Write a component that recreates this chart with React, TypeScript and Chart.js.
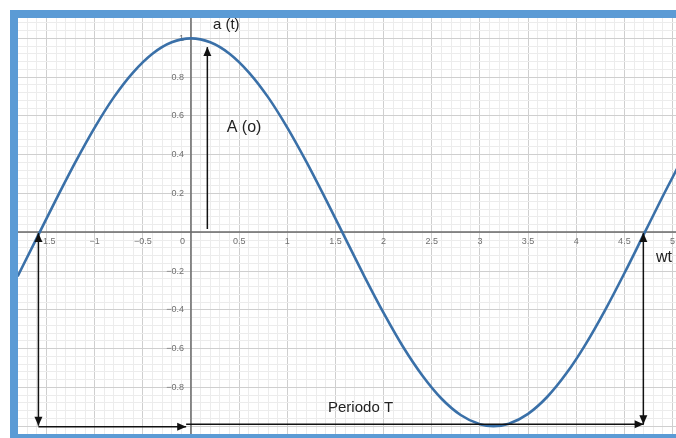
import React, { useEffect, useRef } from "react";
import { Chart, registerables } from "chart.js";

Chart.register(...registerables);

// Curve a(t)
const waveX = [-1.8, -1.6, -1.4, -1.2, -1.0, -0.8, -0.6, -0.4, -0.2, 0, 0.2, 0.4, 0.6, 0.8, 1.0, 1.2, 1.4, 1.6, 1.8, 2.0, 2.2, 2.4, 2.6, 2.8, 3.0, 3.14, 3.3, 3.5, 3.7, 3.9, 4.1, 4.3, 4.5, 4.7, 4.9, 5.1];
const waveY = [-0.227, -0.029, 0.17, 0.362, 0.54, 0.697, 0.825, 0.921, 0.98, 1.0, 0.98, 0.921, 0.825, 0.697, 0.54, 0.362, 0.17, -0.029, -0.227, -0.416, -0.589, -0.737, -0.857, -0.942, -0.99, -1.0, -0.987, -0.936, -0.848, -0.726, -0.575, -0.401, -0.211, -0.012, 0.187, 0.378];

const xTickValues = [-1.5, -1, -0.5, 0, 0.5, 1, 1.5, 2, 2.5, 3, 3.5, 4, 4.5, 5];
const xTickLabels = ["\u22121.5", "\u22121", "\u22120.5", "0", "0.5", "1", "1.5", "2", "2.5", "3", "3.5", "4", "4.5", "5"];
const yTickValues = [1, 0.8, 0.6, 0.4, 0.2, -0.2, -0.4, -0.6, -0.8];
const yTickLabels = ["1", "0.8", "0.6", "0.4", "0.2", "\u22120.2", "\u22120.4", "\u22120.6", "\u22120.8"];

const labelA = "a (t)";
const labelAmp = "A (o)";
const labelWt = "wt";
const labelPeriod = "Periodo T";

const isMult = (v: number, s: number) => Math.abs(v / s - Math.round(v / s)) < 1e-6;

function drawHead(ctx: CanvasRenderingContext2D, tx: number, ty: number, angle: number) {
  const len = 9;
  const w = 4;
  ctx.save();
  ctx.translate(tx, ty);
  ctx.rotate(angle);
  ctx.beginPath();
  ctx.moveTo(0, 0);
  ctx.lineTo(-len, -w);
  ctx.lineTo(-len, w);
  ctx.closePath();
  ctx.fill();
  ctx.restore();
}

function drawArrow(ctx: CanvasRenderingContext2D, x1: number, y1: number, x2: number, y2: number, startHead: boolean, endHead: boolean) {
  ctx.beginPath();
  ctx.moveTo(x1, y1);
  ctx.lineTo(x2, y2);
  ctx.stroke();
  const a = Math.atan2(y2 - y1, x2 - x1);
  if (endHead) drawHead(ctx, x2, y2, a);
  if (startHead) drawHead(ctx, x1, y1, a + Math.PI);
}

const overlayPlugin = {
  id: "overlay",
  beforeDatasetsDraw(chart: any) {
    const { ctx, scales } = chart;
    const x = scales.x;
    const y = scales.y;
    const x0 = Math.round(x.getPixelForValue(0));
    const y0 = Math.round(y.getPixelForValue(0));
    const area = chart.chartArea;
    ctx.save();
    // axes
    ctx.strokeStyle = "#6a6a6a";
    ctx.lineWidth = 1.5;
    ctx.beginPath();
    ctx.moveTo(area.left, y0);
    ctx.lineTo(area.right, y0);
    ctx.moveTo(x0, area.top);
    ctx.lineTo(x0, area.bottom);
    ctx.stroke();
    // tick labels
    ctx.fillStyle = "#707070";
    ctx.font = "9px 'Liberation Sans', Arial, sans-serif";
    ctx.textBaseline = "middle";
    xTickValues.forEach((v, i) => {
      if (v === 0) {
        ctx.textAlign = "right";
        ctx.fillText(xTickLabels[i], x0 - 6, y0 + 9.5);
      } else {
        ctx.textAlign = "center";
        ctx.fillText(xTickLabels[i], x.getPixelForValue(v), y0 + 9.5);
      }
    });
    ctx.textAlign = "right";
    yTickValues.forEach((v, i) => {
      ctx.fillText(yTickLabels[i], x0 - 7, y.getPixelForValue(v));
    });
    ctx.restore();
  },
  afterDatasetsDraw(chart: any) {
    const { ctx, scales } = chart;
    const x = scales.x;
    const y = scales.y;
    const px = (v: number) => x.getPixelForValue(v);
    const py = (v: number) => y.getPixelForValue(v);
    ctx.save();
    ctx.strokeStyle = "#111";
    ctx.fillStyle = "#111";
    ctx.lineWidth = 1.5;
    // amplitude arrow
    drawArrow(ctx, px(0.17), py(0.017), px(0.17), py(0.955), false, true);
    // period verticals
    drawArrow(ctx, px(-1.584), py(-0.997), px(-1.584), py(-0.004), true, true);
    drawArrow(ctx, px(4.697), py(-0.99), px(4.697), py(-0.004), true, true);
    // period horizontals
    drawArrow(ctx, px(-1.584), py(-1.002), px(-0.05), py(-1.002), false, true);
    drawArrow(ctx, px(-0.05), py(-0.99), px(4.7), py(-0.99), false, true);
    // texts
    ctx.fillStyle = "#222";
    ctx.textAlign = "left";
    ctx.textBaseline = "middle";
    ctx.font = "15px 'Liberation Sans', Arial, sans-serif";
    ctx.fillText(labelA, px(0.228), py(1.069));
    ctx.font = "16px 'Liberation Sans', Arial, sans-serif";
    ctx.fillText(labelAmp, px(0.371), py(0.538));
    ctx.fillText(labelWt, px(4.829), py(-0.132));
    ctx.font = "15px 'Liberation Sans', Arial, sans-serif";
    ctx.fillText(labelPeriod, px(1.423), py(-0.906));
    ctx.restore();
  },
};

function gridColor(ctx: any, major: number) {
  const v = ctx.tick ? ctx.tick.value : 0;
  if (isMult(v, major)) return "#cfcfcf";
  return "#ececec";
}

export default function App() {
  const ref = useRef<HTMLCanvasElement | null>(null);
  useEffect(() => {
    if (!ref.current) return;
    const chart = new Chart(ref.current, {
      type: "scatter",
      data: {
        datasets: [
          {
            data: waveX.map((v, i) => ({ x: v, y: waveY[i] })),
            showLine: true,
            pointRadius: 0,
            borderColor: "#3a70a8",
            borderWidth: 2.6,
            cubicInterpolationMode: "monotone",
            fill: false,
          },
        ],
      },
      options: {
        animation: false,
        responsive: false,
        devicePixelRatio: 1,
        layout: { padding: 0 },
        plugins: { legend: { display: false }, tooltip: { enabled: false } },
        scales: {
          x: {
            type: "linear",
            min: -1.796,
            max: 5.036,
            ticks: { display: false, stepSize: 0.1, includeBounds: false },
            grid: { color: (c: any) => gridColor(c, 0.5), lineWidth: 1, drawTicks: false },
            border: { display: false },
          },
          y: {
            type: "linear",
            min: -1.04,
            max: 1.105,
            ticks: { display: false, stepSize: 0.04, includeBounds: false },
            grid: { color: (c: any) => gridColor(c, 0.2), lineWidth: 1, drawTicks: false },
            border: { display: false },
          },
        },
      } as any,
      plugins: [overlayPlugin],
    });
    return () => chart.destroy();
  }, []);

  return (
    <div style={{ position: "fixed", left: 0, top: 0, width: 676, height: 438, background: "#fff", overflow: "hidden" }}>
      <div style={{ position: "absolute", left: 10, top: 10, width: 666, height: 428, background: "#5b9bd5" }} />
      <canvas
        ref={ref}
        width={658}
        height={416}
        style={{ position: "absolute", left: 18, top: 18, width: 658, height: 416, background: "#fff" }}
      />
    </div>
  );
}
